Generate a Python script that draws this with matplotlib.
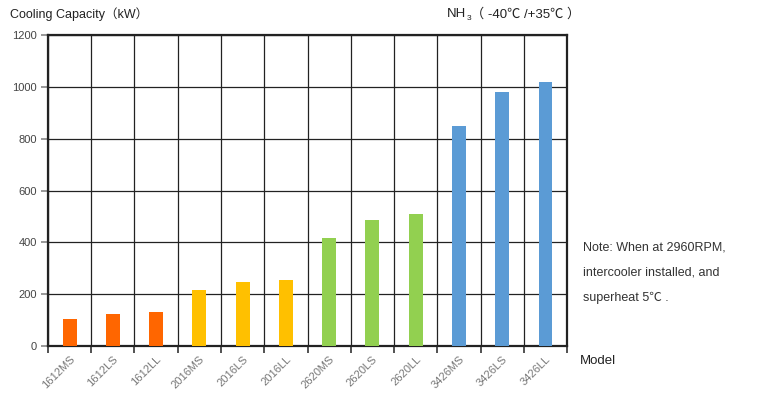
import matplotlib.pyplot as plt
import numpy as np

plt.rcParams['font.family'] = ['Liberation Sans', 'Noto Sans CJK SC', 'DejaVu Sans']

# Cooling capacity per compressor model (kW)
models = ['1612MS', '1612LS', '1612LL', '2016MS', '2016LS', '2016LL',
          '2620MS', '2620LS', '2620LL', '3426MS', '3426LS', '3426LL']
capacity = [103, 123, 130, 215, 246, 254, 415, 488, 509, 850, 983, 1020]
colors = ['#FF6600'] * 3 + ['#FFC000'] * 3 + ['#92D050'] * 3 + ['#5B9BD5'] * 3
yticks = [0, 200, 400, 600, 800, 1000, 1200]

fig = plt.figure(figsize=(7.8, 3.94), dpi=100)
ax = fig.add_axes([0.0615, 0.1226, 0.6655, 0.7874])

x = np.arange(len(models))
ax.bar(x, capacity, width=0.32, color=colors, zorder=3)

ax.set_xlim(-0.5, len(models) - 0.5)
ax.set_ylim(0, 1200)

# vertical lines between categories, horizontal lines at y ticks
ax.set_xticks(np.arange(-0.5, len(models), 1.0), minor=True)
ax.set_xticks(x)
ax.set_xticklabels(models, rotation=45, ha='right', rotation_mode='anchor',
                   fontsize=8, color='#777777')
ax.tick_params(axis='x', which='major', length=0, pad=6)
ax.tick_params(axis='x', which='minor', length=5, width=1.2, color='#333333')
ax.grid(True, which='minor', axis='x', color='#222222', lw=0.9, zorder=0)

ax.set_yticks(yticks)
ax.set_yticklabels([str(v) for v in yticks], fontsize=8, color='#444444')
ax.tick_params(axis='y', length=5, width=1.2, color='#888888', pad=3)
ax.grid(True, which='major', axis='y', color='#222222', lw=0.9, zorder=0)

for s in ax.spines.values():
    s.set_color('#222222')
    s.set_linewidth(1.6)

fig.text(10 / 780, 1 - 14 / 394, 'Cooling Capacity（kW）', fontsize=9,
         color='#222222', va='center', ha='left')

# NH3 with subscript, built from pieces so the font fallback still works
t1 = fig.text(447 / 780, 1 - 14 / 394, 'NH', fontsize=9.5,
              color='#222222', va='center', ha='left')
t2 = plt.annotate('3', xy=(1, 0.1), xycoords=t1, fontsize=6, color='#222222',
                  va='center', ha='left', annotation_clip=False)
plt.annotate('（ -40℃ /+35℃ ）', xy=(1, 0.5), xycoords=(t2, t1),
             fontsize=9.5, color='#222222', va='center', ha='left',
             annotation_clip=False)

fig.text(580 / 780, 1 - 361 / 394, 'Model', fontsize=9.5,
         color='#222222', va='center', ha='left')

note = ['Note: When at 2960RPM,', 'intercooler installed, and', 'superheat 5℃ .']
for i, line in enumerate(note):
    fig.text(583 / 780, 1 - (247 + 25.5 * i) / 394, line, fontsize=9,
             color='#333333', va='center', ha='left')

fig.savefig('out.png', dpi=100)
